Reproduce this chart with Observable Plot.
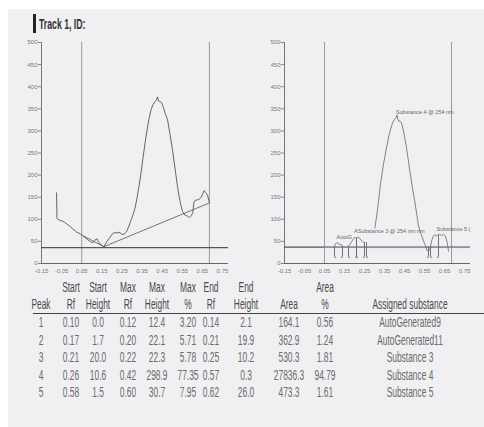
<!DOCTYPE html>
<html><head><meta charset="utf-8">
<script src="https://cdn.jsdelivr.net/npm/d3@7"></script>
<script src="https://cdn.jsdelivr.net/npm/@observablehq/plot@0.6"></script>
<style>
html,body{margin:0;padding:0;background:#fff;}
#page{position:relative;width:484px;height:427px;overflow:hidden;background:#fff;}
#paper{position:absolute;left:8px;top:9px;right:0;bottom:0;background:#f0f0f3;}
.narrow{font-family:"Liberation Sans",Arial,sans-serif;}
#chartL,#chartR{position:absolute;top:0;}
#chartL{left:0px} #chartR{left:240px}
.cell{position:absolute;white-space:nowrap;transform:translate(-50%,-50%) scaleX(0.6);font-size:14px;color:#6a6a6a;line-height:1;}
.hdr{color:#4a4a4a;}
#title{position:absolute;left:39px;top:16px;font-size:15px;color:#333;font-weight:bold;transform:scaleX(0.58);transform-origin:left center;white-space:nowrap;line-height:1;}
</style></head>
<body><div id="page"><div id="paper"></div>
<div style="position:absolute;left:33px;top:14px;width:2.5px;height:19px;background:#222"></div>
<div id="title" class="narrow">Track 1, ID:</div>
<div id="chartL"></div><div id="chartR"></div><div id="table"></div>
</div>
<script>
// ---------- data ----------
const xTicks = [-0.15,-0.05,0.05,0.15,0.25,0.35,0.45,0.55,0.65,0.75];
const yTicks = [0,50,100,150,200,250,300,350,400,450,500];
const trackLimits = [0.05, 0.685];
const baselineLeft = 36;
const baselineRight = 37;

const leftTrace = [[-0.075,160],[-0.073,102],[-0.065,99],[-0.055,97],[-0.045,96],[-0.035,93],[-0.025,90],[-0.015,86],[-0.005,83],[0.005,78],[0.015,75],[0.025,71],[0.035,69],[0.045,66],[0.055,63],[0.065,59],[0.075,56],[0.085,52],[0.095,49],[0.105,47],[0.112,50],[0.12,55],[0.126,56],[0.132,50],[0.14,45],[0.15,41],[0.16,38],[0.168,44],[0.176,50],[0.185,56],[0.195,62],[0.205,68],[0.215,70],[0.225,69],[0.235,71],[0.245,68],[0.255,65],[0.265,68],[0.275,74],[0.285,85],[0.295,98],[0.305,110],[0.315,125],[0.325,148],[0.335,175],[0.345,205],[0.355,240],[0.365,272],[0.375,302],[0.385,328],[0.395,348],[0.405,360],[0.415,366],[0.422,370],[0.427,377],[0.432,368],[0.44,366],[0.447,364],[0.455,355],[0.465,340],[0.477,325],[0.49,290],[0.502,255],[0.515,212],[0.527,172],[0.54,138],[0.551,118],[0.562,110],[0.576,107],[0.586,104],[0.595,108],[0.602,115],[0.608,138],[0.615,143],[0.625,144],[0.635,146],[0.645,150],[0.652,158],[0.659,165],[0.667,160],[0.676,154],[0.685,138]];
const leftBaseline = [[0.06,62],[0.16,38],[0.685,137]];

const rightPeak4 = [[0.302,80],[0.31,105],[0.32,140],[0.33,180],[0.345,225],[0.36,262],[0.375,295],[0.39,318],[0.4,326],[0.408,330],[0.412,336],[0.416,327],[0.422,322],[0.428,322],[0.435,318],[0.445,300],[0.46,262],[0.475,215],[0.49,170],[0.505,130],[0.515,100],[0.52,85],[0.53,70],[0.54,58],[0.55,45],[0.557,38],[0.562,30],[0.57,28],[0.577,32],[0.58,38]];
const rightPeak5 = [[0.58,38],[0.585,50],[0.592,60],[0.6,65],[0.607,62],[0.615,64],[0.625,66],[0.635,63],[0.645,66],[0.655,62],[0.662,50],[0.667,38],[0.67,28]];
const rightPeak1 = [[0.10,37],[0.104,44],[0.11,47],[0.118,46],[0.125,43],[0.132,44],[0.14,39]];
const rightPeak2 = [[0.17,39],[0.178,44],[0.186,50],[0.194,55],[0.2,59],[0.206,58],[0.21,57]];
const rightPeak3 = [[0.21,57],[0.216,59],[0.222,59],[0.232,53],[0.242,49],[0.25,47]];
const rightLabels = ["Substance 4 @ 254 nm","AutoG","ASubstance 3 @ 254 nm nm","Substance 5 ("];
const rightLabelX = [0.408,0.11,0.198,0.61];
const rightLabelY = [343,59,73,77];

const peaks = [1,2,3,4,5];
const startRf = [0.10,0.17,0.21,0.26,0.58];
const startHeight = [0.0,1.7,20.0,10.6,1.5];
const maxRf = [0.12,0.20,0.22,0.42,0.60];
const maxHeight = [12.4,22.1,22.3,298.9,30.7];
const maxPct = [3.20,5.71,5.78,77.35,7.95];
const endRf = [0.14,0.21,0.25,0.57,0.62];
const endHeight = [2.1,19.9,10.2,0.3,26.0];
const area = [164.1,362.9,530.3,27836.3,473.3];
const areaPct = [0.56,1.24,1.81,94.79,1.61];
const assigned = ["AutoGenerated9","AutoGenerated11","Substance 3","Substance 4","Substance 5"];
const header1 = ["","Start","Start","Max","Max","Max","End","End","","Area",""];
const header2 = ["Peak","Rf","Height","Rf","Height","%","Rf","Height","Area","%","Assigned substance"];

// ---------- charts ----------
const fontFam = '"Liberation Sans",Arial,sans-serif';
const X = d => d[0], Y = d => d[1];
const fmt2 = d => d.toFixed(2);

function baseMarks(){
  return [
    Plot.ruleX(trackLimits,{y1:0,y2:500,stroke:"#9a9a9a",strokeWidth:1}),
    Plot.ruleX([-0.15],{y1:0,y2:500,stroke:"#777",strokeWidth:1}),
    Plot.ruleY([0],{x1:-0.15,x2:0.78,stroke:"#666",strokeWidth:1}),
    Plot.axisY(yTicks,{tickSize:3,tickPadding:1,fontSize:6,stroke:"#888",fill:"#777",label:null}),
    Plot.axisX(xTicks,{tickSize:0,tickPadding:5,fontSize:6,fill:"#777",tickFormat:fmt2,label:null})
  ];
}

const common = {
  height:276, marginTop:42, marginBottom:13,
  x:{domain:[-0.15,0.78]}, y:{domain:[0,500]},
  style:{background:"transparent",fontFamily:fontFam,fontSize:"7px",color:"#666",overflow:"visible"}
};

const left = Plot.plot({
  ...common, width:240, marginLeft:41, marginRight:12,
  marks:[
    ...baseMarks(),
    Plot.ruleY([baselineLeft],{x1:-0.15,x2:0.78,stroke:"#555",strokeWidth:1.1}),
    Plot.line(leftBaseline,{x:X,y:Y,stroke:"#666",strokeWidth:0.9}),
    Plot.line(leftTrace,{x:X,y:Y,stroke:"#555",strokeWidth:0.9})
  ]
});
document.getElementById("chartL").appendChild(left);

const peakTable = peaks.map((p,i)=>({p,startRf:startRf[i],endRf:endRf[i],s:startHeight[i],e:endHeight[i]}));
const brackets = peakTable.flatMap(d=>[{x:d.startRf,top:baselineRight+d.s,dir:1},{x:d.endRf,top:baselineRight+d.e,dir:-1}]);
const rightSegs = [
  ...rightPeak4.map(d=>({x:d[0],y:d[1],z:"p4"})),
  ...rightPeak5.map(d=>({x:d[0],y:d[1],z:"p5"})),
  ...rightPeak1.map(d=>({x:d[0],y:d[1],z:"p1"})),
  ...rightPeak2.map(d=>({x:d[0],y:d[1],z:"p2"})),
  ...rightPeak3.map(d=>({x:d[0],y:d[1],z:"p3"}))
];
const labelData = rightLabels.map((t,i)=>({t,x:rightLabelX[i],y:rightLabelY[i]}));

const right = Plot.plot({
  ...common, width:244, marginLeft:44, marginRight:14,
  marks:[
    ...baseMarks(),
    Plot.ruleY([baselineRight],{x1:-0.15,x2:0.78,stroke:"#555",strokeWidth:1.1}),
    Plot.ruleY([baselineRight-1],{x1:0.05,x2:0.78,stroke:"#7fa3c8",strokeWidth:1,strokeOpacity:0.8}),
    Plot.line(rightSegs,{x:"x",y:"y",z:"z",stroke:"#666",strokeWidth:0.8}),
    Plot.ruleX(brackets,{x:"x",y1:14,y2:"top",stroke:"#666",strokeWidth:0.9}),
    Plot.link(brackets,{x1:"x",x2:d=>d.x+d.dir*0.008,y1:14,y2:14,stroke:"#666",strokeWidth:0.9}),
    Plot.text(labelData,{x:"x",y:"y",text:"t",textAnchor:"start",fontSize:5.5,fill:"#666"})
  ]
});
document.getElementById("chartR").appendChild(right);

// ---------- table ----------
const colX = [41,71,98,128,157,188,211,246,289,325,410];
const h1Y = 287, h2Y = 304, lineY = 313;
const rowY = [322,339.5,357,374.5,392];
const tbl = document.getElementById("table");
function cell(text,x,y,cls){
  const d=document.createElement("div");
  d.className="cell narrow "+(cls||"");
  d.textContent=text; d.style.left=x+"px"; d.style.top=y+"px";
  tbl.appendChild(d);
}
header1.forEach((t,i)=>{ if(t) cell(t,colX[i],h1Y,"hdr"); });
header2.forEach((t,i)=>{ cell(t,colX[i],h2Y,"hdr"); });
const ln=document.createElement("div");
ln.style.cssText=`position:absolute;left:33px;top:${lineY}px;width:451px;height:1.3px;background:#444;`;
tbl.appendChild(ln);
peaks.forEach((p,i)=>{
  const vals=[String(p),startRf[i].toFixed(2),startHeight[i].toFixed(1),maxRf[i].toFixed(2),maxHeight[i].toFixed(1),maxPct[i].toFixed(2),endRf[i].toFixed(2),endHeight[i].toFixed(1),area[i].toFixed(1),areaPct[i].toFixed(2),assigned[i]];
  vals.forEach((v,j)=>cell(v,colX[j],rowY[i]));
});
</script>
</body></html>
